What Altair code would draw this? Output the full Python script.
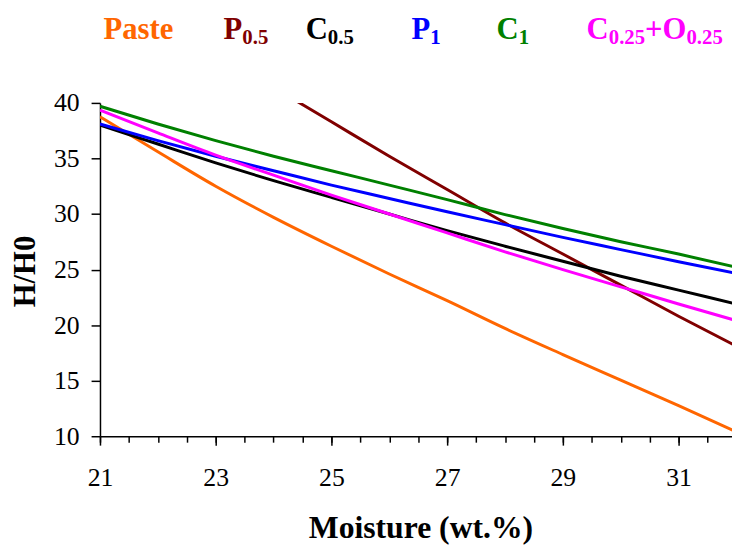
import altair as alt
import pandas as pd

# ---- data ----
series_names = ["Paste", "P0.5", "C0.5", "P1", "C1", "C0.25+O0.25"]
series_colors = ["#FF6600", "#800000", "#000000", "#0000FF", "#008000", "#FF00FF"]

x_common = [21, 22, 23, 24, 25, 26, 27, 28, 29, 30, 31, 32]
paste = [38.75, 35.6, 32.5, 29.7, 27.1, 24.6, 22.2, 19.7, 17.35, 15.05, 12.75, 10.4]
c05 = [38.0, 36.3, 34.6, 33.0, 31.5, 30.0, 28.5, 27.1, 25.75, 24.4, 23.15, 21.9]
p1 = [38.1, 36.6, 35.2, 33.9, 32.6, 31.4, 30.2, 29.05, 27.9, 26.8, 25.7, 24.65]
c1 = [39.7, 38.1, 36.6, 35.2, 33.9, 32.6, 31.3, 29.95, 28.7, 27.5, 26.4, 25.2]
mix = [39.35, 37.3, 35.3, 33.5, 31.7, 30.0, 28.3, 26.6, 25.0, 23.45, 21.9, 20.4]

x_p05 = [24, 25, 26, 27, 28, 29, 30, 31, 32]
p05 = [41.4, 38.3, 35.2, 32.2, 29.2, 26.4, 23.6, 20.8, 18.1]

x_major = [21, 23, 25, 27, 29, 31]
x_minor = [21, 21.5, 22, 22.5, 23, 23.5, 24, 24.5, 25, 25.5, 26, 26.5,
           27, 27.5, 28, 28.5, 29, 29.5, 30, 30.5, 31, 31.5]
y_ticks = [10, 15, 20, 25, 30, 35, 40]

rows = []
for name, xs, ys in [
    ("Paste", x_common, paste),
    ("P0.5", x_p05, p05),
    ("C0.5", x_common, c05),
    ("P1", x_common, p1),
    ("C1", x_common, c1),
    ("C0.25+O0.25", x_common, mix),
]:
    for xv, yv in zip(xs, ys):
        rows.append({"series": name, "x": xv, "y": yv})
df = pd.DataFrame(rows)

FONT = "Liberation Serif"
W, H = 639, 337
x_scale = alt.Scale(domain=[21, 21 + W / 58.5], nice=False, zero=False)
y_scale = alt.Scale(domain=[10, 40], nice=False, zero=False)

y_axis = alt.Axis(values=y_ticks, tickSize=9, labelPadding=12, format="d",
                  title="H/H0", titleAngle=270, titleX=-66, titleY=170,
                  titleBaseline="alphabetic", titleAlign="center")

lines = alt.Chart(df).mark_line(strokeWidth=3, interpolate="monotone", clip=True).encode(
    x=alt.X("x:Q", scale=x_scale,
            axis=alt.Axis(values=x_major, tickSize=9, labelPadding=41,
                          labelBaseline="alphabetic", labelFlush=False, format="d",
                          title="Moisture (wt.%)", titleX=324, titleY=102,
                          titleFontSize=32,
                          titleBaseline="alphabetic", titleAlign="center",
                          orient="bottom")),
    y=alt.Y("y:Q", scale=y_scale, axis=y_axis),
    color=alt.Color("series:N", scale=alt.Scale(domain=series_names, range=series_colors),
                    legend=None),
)

minor = alt.Chart(df).mark_line(strokeOpacity=0).encode(
    x=alt.X("x:Q", scale=x_scale,
            axis=alt.Axis(values=x_minor, tickSize=6, labels=False, domain=False,
                          title="", orient="bottom")),
    y=alt.Y("y:Q", scale=y_scale, axis=y_axis),
    detail="series:N",
)

# legend: groups of (start x offset, colour index, [(text, is_subscript), ...])
MAIN, SUB = 31, 21
ADV = {"P": 0.611, "C": 0.722, "O": 0.778, "+": 0.570, "0": 0.5, "1": 0.5,
       "2": 0.5, "5": 0.5, ".": 0.25}
legend_groups = [
    (3.5, 0, [("Paste", False)]),
    (125, 1, [("P", False), ("0.5", True)]),
    (208, 2, [("C", False), ("0.5", True)]),
    (315, 3, [("P", False), ("1", True)]),
    (401, 4, [("C", False), ("1", True)]),
    (492, 5, [("C", False), ("0.25", True), ("+O", False), ("0.25", True)]),
]
one = pd.DataFrame({"k": [0]})
legend_layers = []
for gx, ci, pieces in legend_groups:
    cx = gx
    for txt, sub in pieces:
        fs = SUB if sub else MAIN
        legend_layers.append(
            alt.Chart(one).mark_text(
                font=FONT, fontWeight="bold", fontSize=fs,
                align="left", baseline="alphabetic", color=series_colors[ci],
            ).encode(
                x=alt.value(cx), y=alt.value(-60 if sub else -65), text=alt.value(txt)
            )
        )
        cx += sum(ADV.get(ch, 0.5) for ch in txt) * fs

chart = alt.layer(lines, minor, *legend_layers).resolve_axis(x="independent").properties(
    width=W, height=H,
    autosize=alt.AutoSizeParams(type="none"),
    padding={"left": 93, "top": 93, "right": 0, "bottom": 107},
    background="white",
).configure_view(stroke=None).configure_axis(
    grid=False,
    labelFont=FONT, labelFontSize=26, labelColor="black",
    titleFont=FONT, titleFontSize=31, titleFontWeight="bold", titleColor="black",
    domainColor="black", domainWidth=1.5, tickColor="black", tickWidth=1.5,
)

chart.save("out.html", embed_options={"renderer": "svg", "actions": False})
